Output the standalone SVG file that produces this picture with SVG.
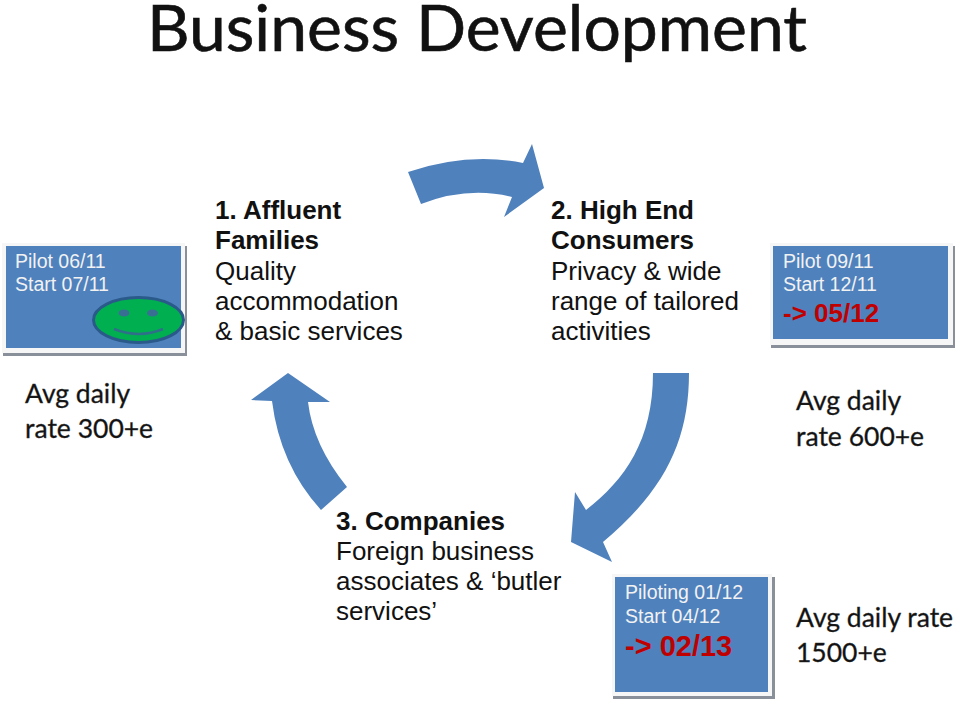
<svg xmlns="http://www.w3.org/2000/svg" width="960" height="705" viewBox="0 0 960 705">
<style>
.a{fill:#4f81bd}
.t{font-family:"Liberation Sans",Arial,sans-serif;font-size:26px;fill:#111}
.b{font-weight:bold}
.s{font-family:"Liberation Sans",Arial,sans-serif;font-size:19.500px;fill:#f2f2f2}
.r{font-family:"Liberation Sans",Arial,sans-serif;font-weight:bold;fill:#c00000}
.c{font-family:Lato,"Open Sans",sans-serif;font-size:26.500px;fill:#111;stroke:#333;stroke-width:.35px}
.sh{fill:#8a9099}
.fr{fill:#f6f6f6}
</style>
<rect width="960" height="705" fill="#fff"/>
<text x="147" y="51" font-family="Lato,'Open Sans',sans-serif" font-size="63" fill="#111" stroke="#111" stroke-width=".6" textLength="660" lengthAdjust="spacingAndGlyphs">Business Development</text>
<g id="connectors">
<path class="a" d="M408 172Q468 152 523 163L532 144L544 188L504 217L512 197Q468 186 421 204Z"/>
<path class="a" d="M653 373H689C689 440 665 490 603 542L612 562L571 542L575 492L586 510C625 480 653 440 653 373Z"/>
<path class="a" d="M288 373L330 402H308Q313 445 347 487L321 510Q280 465 272 401L251 400Z"/>
</g>
<g id="box-pilot-1">
<rect class="sh" x="3" y="246" width="184" height="110"/>
<rect class="fr" x="2" y="243" width="183" height="110"/>
<rect class="a" x="6" y="246" width="175" height="102"/>
<text class="s" x="15" y="268">Pilot 06/11</text>
<text class="s" x="15" y="291">Start 07/11</text>
<g id="smiley">
<ellipse cx="138.500" cy="320" rx="45" ry="22.500" fill="#00b050" stroke="#2a5a8a" stroke-width="3"/>
<ellipse cx="124" cy="313" rx="5.500" ry="3.500" fill="#3a6f94"/>
<ellipse cx="152.500" cy="313" rx="5.500" ry="3.500" fill="#3a6f94"/>
<path d="M114 329Q139 339 163 329" fill="none" stroke="#2f6f8a" stroke-width="2.500"/>
</g>
</g>
<g id="label-rate-1">
<text class="c" x="25" y="403">Avg daily</text>
<text class="c" x="25" y="438">rate 300+e</text>
</g>
<g id="node-1">
<text class="t b" x="215" y="219">1. Affluent</text>
<text class="t b" x="215" y="249">Families</text>
<text class="t" x="215" y="280">Quality</text>
<text class="t" x="215" y="310">accommodation</text>
<text class="t" x="215" y="340">&amp; basic services</text>
</g>
<g id="node-2">
<text class="t b" x="551" y="219">2. High End</text>
<text class="t b" x="551" y="249">Consumers</text>
<text class="t" x="551" y="280">Privacy &amp; wide</text>
<text class="t" x="551" y="310">range of tailored</text>
<text class="t" x="551" y="340">activities</text>
</g>
<g id="box-pilot-2">
<rect class="sh" x="771" y="246" width="184" height="102"/>
<rect class="fr" x="770" y="243" width="183" height="102"/>
<rect class="a" x="773" y="246" width="175" height="93"/>
<text class="s" x="783" y="268">Pilot 09/11</text>
<text class="s" x="783" y="291">Start 12/11</text>
<text class="r" x="783" y="322" font-size="26">-&gt; 05/12</text>
</g>
<g id="label-rate-2">
<text class="c" x="796" y="410">Avg daily</text>
<text class="c" x="796" y="446">rate 600+e</text>
</g>
<g id="node-3">
<text class="t b" x="336" y="530">3. Companies</text>
<text class="t" x="336" y="560">Foreign business</text>
<text class="t" x="336" y="590">associates &amp; ‘butler</text>
<text class="t" x="336" y="620">services’</text>
</g>
<g id="box-pilot-3">
<rect class="sh" x="613" y="577" width="162" height="122"/>
<rect class="fr" x="612" y="574" width="160" height="122"/>
<rect class="a" x="615" y="577" width="153" height="115"/>
<text class="s" x="625" y="599">Piloting 01/12</text>
<text class="s" x="625" y="623">Start 04/12</text>
<text class="r" x="625" y="656" font-size="29">-&gt; 02/13</text>
</g>
<g id="label-rate-3">
<text class="c" x="796" y="627">Avg daily rate</text>
<text class="c" x="796" y="662">1500+e</text>
</g>
</svg>
